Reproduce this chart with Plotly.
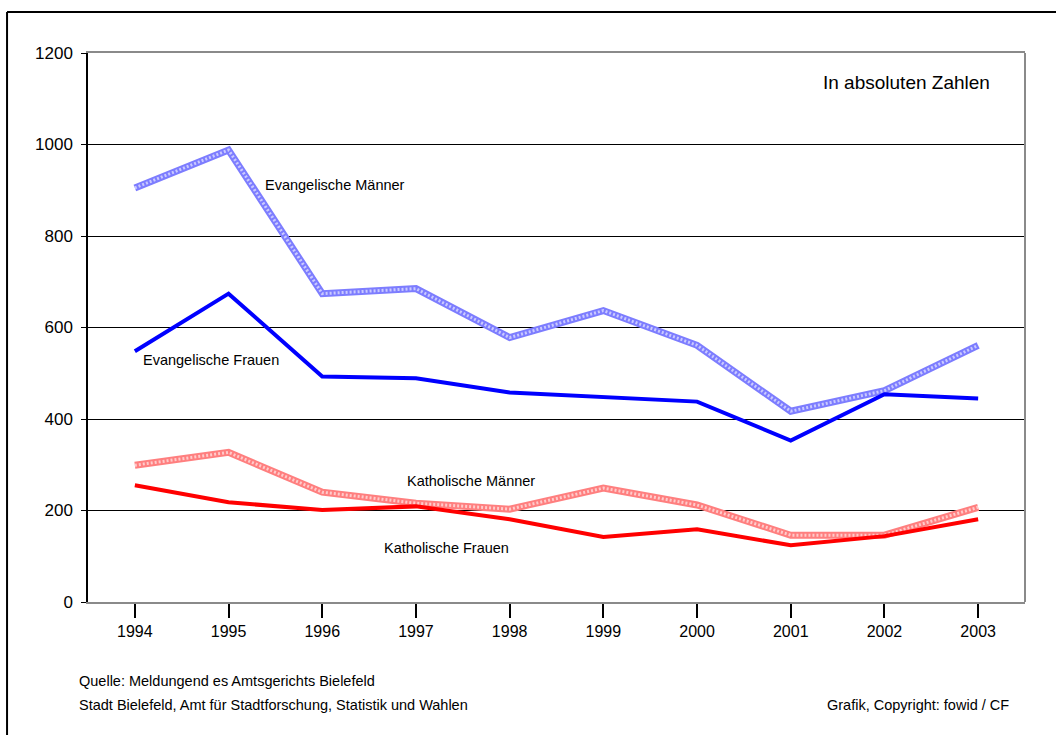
import plotly.graph_objects as go

years = ["1994", "1995", "1996", "1997", "1998", "1999", "2000", "2001", "2002", "2003"]
ev_maenner = [905, 988, 674, 685, 578, 637, 561, 417, 462, 561]
ev_frauen = [548, 674, 493, 489, 458, 447, 438, 353, 454, 445]
kath_maenner = [299, 327, 240, 216, 203, 249, 212, 146, 146, 207]
kath_frauen = [255, 218, 201, 209, 181, 142, 159, 124, 144, 181]

x = list(range(len(years)))
NARROW = "Liberation Sans Narrow, Arial Narrow, Liberation Sans, Arial"
REG = "Liberation Sans, Arial"

fig = go.Figure()

def hatched(vals, base, light):
    fig.add_trace(go.Scatter(x=x, y=vals, mode="lines", line=dict(color=base, width=7),
                             showlegend=False, hoverinfo="skip"))
    fig.add_trace(go.Scatter(x=x, y=vals, mode="lines",
                             line=dict(color=light, width=3, dash="2px,2px"),
                             showlegend=False, hoverinfo="skip"))

hatched(ev_maenner, "#7d7dff", "rgba(235,235,255,0.7)")
fig.add_trace(go.Scatter(x=x, y=ev_frauen, mode="lines", line=dict(color="#0000ff", width=4),
                         showlegend=False))
hatched(kath_maenner, "#ff7f7f", "rgba(255,235,235,0.7)")
fig.add_trace(go.Scatter(x=x, y=kath_frauen, mode="lines", line=dict(color="#ff0000", width=4),
                         showlegend=False))

labels = [
    ("Evangelische Männer", 1.40, 912),
    ("Evangelische Frauen", 0.10, 528),
    ("Katholische Männer", 2.92, 264),
    ("Katholische Frauen", 2.67, 118),
]
for txt, lx, ly in labels:
    fig.add_annotation(x=lx, y=ly, xref="x", yref="y", text=txt, showarrow=False,
                       xanchor="left", yanchor="middle", xshift=-3,
                       font=dict(family=NARROW, size=14.5, color="black"))

fig.add_annotation(x=0.965, y=0.947, xref="paper", yref="paper", text="In absoluten Zahlen",
                   showarrow=False, xanchor="right", yanchor="middle",
                   font=dict(family=REG, size=19, color="black"))

fig.add_annotation(x=-0.0085, y=-0.144, xref="paper", yref="paper",
                   text="Quelle: Meldungend es Amtsgerichts Bielefeld",
                   showarrow=False, xanchor="left", yanchor="middle", xshift=-3,
                   font=dict(family=NARROW, size=14.5, color="black"))
fig.add_annotation(x=-0.0085, y=-0.188, xref="paper", yref="paper",
                   text="Stadt Bielefeld, Amt für Stadtforschung, Statistik und Wahlen",
                   showarrow=False, xanchor="left", yanchor="middle", xshift=-3,
                   font=dict(family=NARROW, size=14.5, color="black"))
fig.add_annotation(x=0.985, y=-0.188, xref="paper", yref="paper",
                   text="Grafik, Copyright: fowid / CF",
                   showarrow=False, xanchor="right", yanchor="middle",
                   font=dict(family=NARROW, size=14.5, color="black"))

# outer frame (top and left visible)
fig.add_shape(type="line", xref="paper", yref="paper", x0=-0.0864, x1=1.04, y0=1.0747, y1=1.0747,
              line=dict(color="black", width=2))
fig.add_shape(type="line", xref="paper", yref="paper", x0=-0.0864, x1=-0.0864, y0=1.0747, y1=-0.25,
              line=dict(color="black", width=2))
# right border of plot area
fig.add_shape(type="line", xref="paper", yref="paper", x0=1, x1=1, y0=0, y1=1,
              line=dict(color="#8a8a8a", width=2))

fig.update_layout(
    width=1056, height=735,
    margin=dict(l=88, r=31, t=53, b=133),
    paper_bgcolor="white", plot_bgcolor="white",
    showlegend=False,
    xaxis=dict(range=[-0.5, 9.5], tickvals=x, ticktext=years, showgrid=False, zeroline=False,
               showline=True, linecolor="#8a8a8a", linewidth=2, mirror=True,
               ticks="outside", ticklen=14, tickcolor="black", tickwidth=1.5,
               tickfont=dict(family=NARROW, size=16, color="black")),
    yaxis=dict(range=[0, 1200], dtick=200, showgrid=True, gridcolor="black", gridwidth=1,
               zeroline=False, showline=True, linecolor="black", linewidth=1.5,
               ticks="outside", ticklen=5, tickcolor="black", ticklabelstandoff=5,
               tickfont=dict(family=REG, size=17, color="black")),
)

fig.write_html("out.html", config={"displayModeBar": False},
               post_script="document.body.style.margin='0';document.body.style.overflow='hidden';")
